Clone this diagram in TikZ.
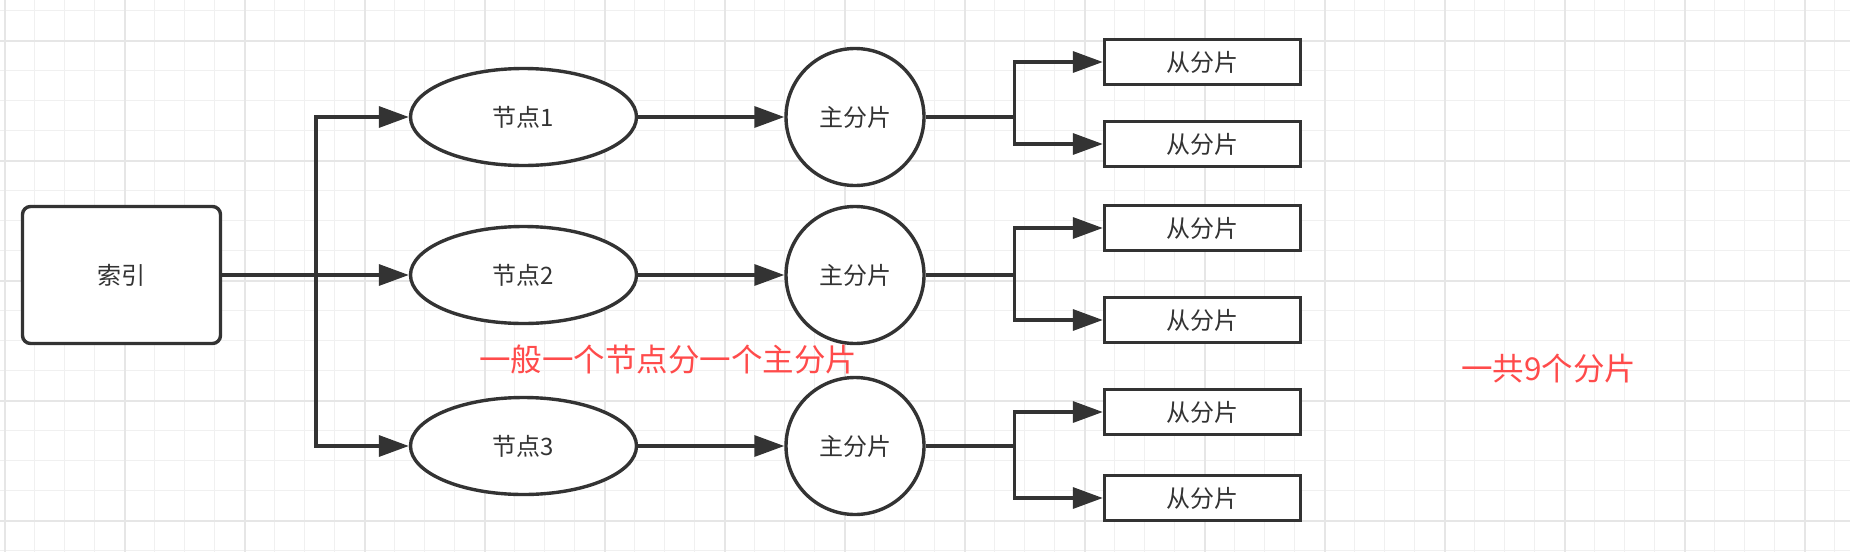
\documentclass[tikz,border=0pt]{standalone}
\usepackage{fontspec}
\usetikzlibrary{shapes.geometric,arrows.meta}
\newfontfamily\cjk{Noto Sans CJK SC}
\definecolor{dk}{HTML}{333333}
\definecolor{notered}{HTML}{FF4B4B}
\definecolor{gridmin}{HTML}{F0F0F0}
\definecolor{gridmaj}{HTML}{E6E6E6}
\newcommand{\lblfont}{\cjk\fontsize{24}{28}\selectfont}
\newcommand{\notefont}{\cjk\fontsize{31.5}{36}\selectfont}
\tikzset{
  shp/.style={draw=dk, line width=3.4pt, fill=white, font=\lblfont, text=dk, inner sep=0pt},
  idxbox/.style={shp, rectangle, rounded corners=8pt, minimum width=198pt, minimum height=137pt},
  nodeell/.style={shp, ellipse, minimum width=226pt, minimum height=97pt},
  primc/.style={shp, ellipse, minimum width=138pt, minimum height=137pt},
  replbox/.style={shp, rectangle, minimum width=196pt, minimum height=44.5pt},
  conn/.style={draw=dk, line width=3.4pt},
  arr/.style={conn, -{Triangle[length=30pt,width=21pt]}},
  note/.style={text=notered, font=\notefont, inner sep=0pt},
  gmin/.style={draw=gridmin, line width=1pt},
  gmaj/.style={draw=gridmaj, line width=2pt},
}
\begin{document}
\begin{tikzpicture}[x=1pt,y=-1pt]
\useasboundingbox (0,0) rectangle (1850,552);
\fill[white] (0,0) rectangle (1850,552);
% grid
\foreach \i in {0,...,61} {\draw[gmin] (4.6+30*\i,0) -- (4.6+30*\i,552);}
\foreach \j in {0,...,18} {\draw[gmin] (0,10.5+30*\j) -- (1850,10.5+30*\j);}
\foreach \i in {0,...,15} {\draw[gmaj] (4.6+120*\i,0) -- (4.6+120*\i,552);}
\foreach \j in {0,...,4} {\draw[gmaj] (0,40.5+120*\j) -- (1850,40.5+120*\j);}

% nodes
\node[idxbox] (idx) at (121.5,275) {索引};
\node[nodeell] (e1) at (523.5,117) {节点1};
\node[nodeell] (e2) at (523.5,275) {节点2};
\node[nodeell] (e3) at (523.5,446) {节点3};
\node[primc] (p1) at (855,117) {主分片};
\node[primc] (p2) at (855,275) {主分片};
\node[primc] (p3) at (855,446) {主分片};
\node[replbox] (s1) at (1202.5,62) {从分片};
\node[replbox] (s2) at (1202.5,144) {从分片};
\node[replbox] (s3) at (1202.5,228) {从分片};
\node[replbox] (s4) at (1202.5,320) {从分片};
\node[replbox] (s5) at (1202.5,412) {从分片};
\node[replbox] (s6) at (1202.5,498) {从分片};

% connectors
\coordinate (bus) at (316,275);
\draw[arr] (idx.east) -- (e2.west);
\draw[arr] (bus) |- (e1.west);
\draw[arr] (bus) |- (e3.west);
\draw[arr] (e1.east) -- (p1.west);
\draw[arr] (e2.east) -- (p2.west);
\draw[arr] (e3.east) -- (p3.west);
\coordinate (b1) at (1014.5,117);
\coordinate (b2) at (1014.5,275);
\coordinate (b3) at (1014.5,446);
\draw[conn] (p1.east) -- (b1);
\draw[conn] (p2.east) -- (b2);
\draw[conn] (p3.east) -- (b3);
\draw[arr] (b1) |- (s1.west);
\draw[arr] (b1) |- (s2.west);
\draw[arr] (b2) |- (s3.west);
\draw[arr] (b2) |- (s4.west);
\draw[arr] (b3) |- (s5.west);
\draw[arr] (b3) |- (s6.west);

% notes
\node[note] (n1) at (668,360) {一般一个节点分一个主分片};
\node[note] (n2) at (1548.5,369) {一共9个分片};
\end{tikzpicture}
\end{document}
